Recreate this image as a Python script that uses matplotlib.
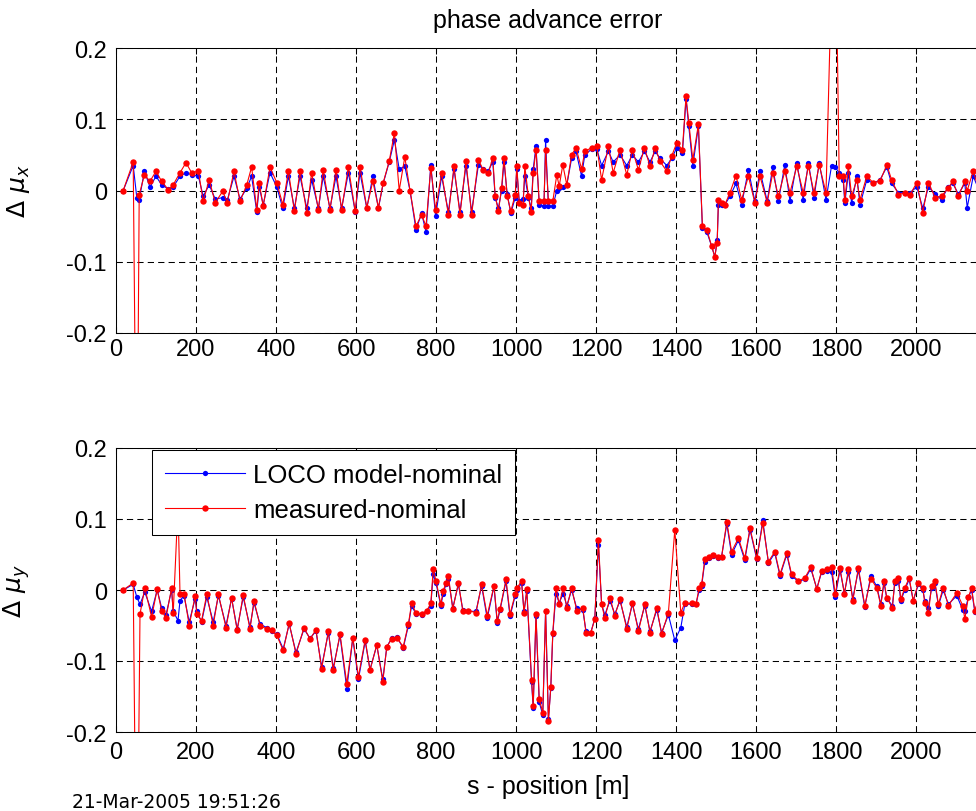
import matplotlib
matplotlib.use('Agg')
import matplotlib.pyplot as plt

# horizontal plane: BPM position [m], measured and LOCO-model phase advance errors
s_x = [18, 43, 52, 58, 71, 85, 100, 114, 131, 143, 160, 175, 189, 206, 218, 233, 248, 267, 278, 295,
       310, 327, 339, 352, 358, 368, 385, 402, 417, 431, 446, 460, 477, 489, 506, 518, 535, 550, 564, 581,
       598, 610, 627, 642, 656, 668, 683, 696, 708, 722, 735, 750, 764, 775, 787, 799, 814, 831, 845, 860,
       875, 889, 906, 918, 931, 942, 948, 956, 964, 970, 978, 987, 998, 1002, 1008, 1018, 1022, 1031, 1038, 1043,
       1050, 1058, 1070, 1074, 1081, 1092, 1102, 1108, 1117, 1127, 1139, 1150, 1164, 1172, 1189, 1202, 1214, 1231, 1243, 1260,
       1277, 1291, 1306, 1321, 1335, 1348, 1360, 1377, 1389, 1402, 1416, 1425, 1432, 1442, 1456, 1466, 1477, 1489, 1497, 1503,
       1506, 1514, 1522, 1535, 1550, 1564, 1581, 1597, 1610, 1628, 1642, 1656, 1672, 1685, 1702, 1718, 1731, 1745, 1758, 1775,
       1789, 1797, 1808, 1818, 1822, 1831, 1839, 1852, 1860, 1877, 1893, 1910, 1927, 1939, 1956, 1973, 1985, 2002, 2017, 2031,
       2048, 2064, 2080, 2092, 2106, 2122, 2128, 2143, 2158]
dmux_meas = [0.0, 0.040, -0.50, -0.006, 0.022, 0.013, 0.027, 0.013, 0.001, 0.008, 0.025, 0.039, 0.025, 0.027, -0.015, 0.015, -0.017, -0.001, -0.017, 0.027,
             -0.015, 0.008, 0.033, -0.027, 0.011, -0.022, 0.033, 0.011, -0.020, 0.027, -0.029, 0.027, -0.031, 0.025, -0.027, 0.029, -0.027, 0.029, -0.027, 0.033,
             -0.029, 0.033, -0.024, 0.013, -0.024, 0.011, 0.041, 0.081, 0.000, 0.047, 0.000, -0.050, -0.034, -0.050, 0.032, -0.027, 0.025, -0.034, 0.034, -0.034,
             0.041, -0.034, 0.043, 0.029, 0.025, 0.046, -0.008, -0.029, 0.004, 0.046, -0.008, -0.029, -0.006, 0.034, -0.017, -0.020, 0.034, -0.008, -0.030, 0.025,
             0.057, -0.015, -0.015, 0.057, -0.015, -0.015, 0.022, 0.006, 0.036, 0.008, 0.050, 0.060, 0.030, 0.055, 0.060, 0.062, 0.015, 0.062, 0.025, 0.057,
             0.022, 0.057, 0.029, 0.060, 0.034, 0.060, 0.041, 0.027, 0.048, 0.067, 0.057, 0.132, 0.095, 0.043, 0.093, -0.050, -0.055, -0.078, -0.093, -0.073,
             -0.013, -0.017, -0.020, -0.003, 0.021, -0.013, 0.020, -0.017, 0.020, -0.017, 0.025, -0.008, 0.027, -0.003, 0.034, -0.003, 0.034, -0.003, 0.036, -0.003,
             0.30, 0.45, 0.020, 0.020, -0.013, 0.034, -0.008, 0.015, -0.013, 0.020, 0.011, 0.013, 0.036, 0.015, -0.006, -0.003, -0.006, 0.011, -0.031, 0.011,
             -0.010, -0.008, 0.003, 0.013, -0.008, 0.013, 0.000, 0.027, 0.000]
dmux_model = [0.0, 0.035, -0.010, -0.013, 0.027, 0.005, 0.020, 0.008, 0.002, 0.005, 0.020, 0.025, 0.022, 0.020, -0.008, 0.008, -0.012, -0.010, -0.014, 0.020,
              -0.012, 0.003, 0.020, -0.030, 0.005, -0.020, 0.025, 0.005, -0.025, 0.020, -0.025, 0.020, -0.025, 0.015, -0.025, 0.020, -0.025, 0.020, -0.025, 0.025,
              -0.030, 0.025, -0.025, 0.020, -0.025, 0.010, 0.040, 0.071, 0.030, 0.034, 0.000, -0.055, -0.032, -0.058, 0.036, -0.036, 0.020, -0.030, 0.030, -0.030,
              0.035, -0.030, 0.036, 0.030, 0.028, 0.040, -0.010, -0.025, 0.000, 0.040, -0.005, -0.032, -0.010, 0.030, -0.015, -0.012, 0.020, -0.010, -0.025, 0.030,
              0.062, -0.020, -0.022, 0.071, -0.022, -0.022, 0.000, 0.003, 0.005, 0.008, 0.045, 0.055, 0.020, 0.050, 0.058, 0.058, 0.035, 0.055, 0.040, 0.050,
              0.035, 0.050, 0.040, 0.055, 0.040, 0.055, 0.045, 0.035, 0.045, 0.060, 0.052, 0.128, 0.090, 0.035, 0.090, -0.052, -0.058, -0.078, -0.093, -0.070,
              -0.020, -0.020, -0.020, -0.008, 0.010, -0.020, 0.029, -0.015, 0.027, -0.015, 0.033, -0.015, 0.036, -0.015, 0.039, -0.013, 0.039, -0.010, 0.039, -0.013,
              0.035, 0.033, 0.025, 0.015, -0.018, 0.025, -0.018, 0.020, -0.020, 0.015, 0.010, 0.015, 0.033, 0.010, -0.003, -0.003, -0.003, 0.005, -0.025, 0.005,
              -0.005, -0.013, 0.005, 0.010, -0.005, 0.010, -0.024, 0.020, 0.000]

# vertical plane
s_y = [18, 43, 52, 60, 72, 89, 103, 114, 125, 139, 143, 155, 160, 170, 183, 198, 202, 214, 227, 243,
       256, 275, 289, 303, 318, 335, 345, 360, 377, 389, 402, 418, 433, 450, 470, 485, 500, 514, 531, 543,
       560, 577, 592, 606, 623, 635, 652, 667, 677, 689, 702, 718, 731, 739, 750, 764, 777, 787, 793, 800,
       812, 818, 825, 831, 842, 856, 867, 881, 900, 914, 928, 945, 953, 960, 975, 985, 998, 1003, 1014, 1020,
       1027, 1039, 1043, 1050, 1058, 1067, 1074, 1081, 1087, 1092, 1100, 1108, 1118, 1127, 1139, 1152, 1167, 1175, 1187, 1197,
       1206, 1214, 1222, 1235, 1247, 1260, 1277, 1291, 1306, 1322, 1335, 1352, 1364, 1381, 1397, 1412, 1422, 1439, 1450, 1458,
       1464, 1472, 1483, 1493, 1506, 1514, 1527, 1539, 1556, 1572, 1585, 1602, 1617, 1631, 1647, 1660, 1677, 1689, 1706, 1722,
       1737, 1752, 1764, 1777, 1789, 1798, 1810, 1821, 1831, 1842, 1856, 1872, 1887, 1902, 1912, 1920, 1927, 1941, 1947, 1956,
       1962, 1972, 1983, 1993, 2006, 2017, 2022, 2031, 2039, 2047, 2056, 2068, 2081, 2102, 2117, 2122, 2131, 2139, 2147, 2158]
dmuy_meas = [0.0, 0.010, -0.50, -0.034, 0.003, -0.038, 0.001, -0.029, -0.039, 0.003, -0.033, 0.12, -0.006, -0.005, -0.050, -0.008, -0.034, -0.043, -0.006, -0.050,
             -0.006, -0.053, -0.011, -0.057, -0.007, -0.055, -0.015, -0.050, -0.055, -0.057, -0.064, -0.085, -0.047, -0.090, -0.053, -0.069, -0.056, -0.111, -0.058, -0.113,
             -0.062, -0.132, -0.067, -0.122, -0.070, -0.113, -0.077, -0.129, -0.080, -0.069, -0.067, -0.080, -0.048, -0.019, -0.032, -0.034, -0.029, -0.019, 0.029, 0.013,
             -0.020, -0.001, 0.010, 0.020, -0.027, 0.010, -0.029, -0.029, -0.032, 0.008, -0.036, 0.006, -0.043, -0.027, 0.015, -0.034, -0.006, 0.003, 0.013, -0.032,
             0.001, -0.127, -0.164, -0.034, -0.153, -0.173, -0.029, -0.185, -0.136, -0.060, 0.003, -0.020, 0.003, -0.025, 0.003, -0.029, -0.025, -0.060, -0.060, -0.041,
             0.071, -0.020, -0.039, -0.011, -0.036, -0.013, -0.055, -0.018, -0.058, -0.020, -0.060, -0.025, -0.062, -0.032, 0.085, -0.032, -0.018, -0.019, -0.020, 0.003,
             0.008, 0.043, 0.047, 0.050, 0.047, 0.047, 0.096, 0.054, 0.073, 0.045, 0.087, 0.045, 0.094, 0.040, 0.054, 0.022, 0.052, 0.022, 0.013, 0.017,
             0.032, 0.001, 0.027, 0.029, 0.033, -0.006, 0.031, -0.006, 0.029, -0.015, 0.031, -0.022, 0.016, 0.003, -0.022, 0.013, -0.011, -0.025, 0.013, 0.017,
             -0.013, 0.003, 0.017, -0.015, 0.010, 0.003, -0.018, -0.033, 0.006, 0.013, -0.020, 0.003, -0.022, -0.004, -0.022, -0.041, -0.010, 0.003, -0.029, -0.010]
dmuy_model = [0.0, 0.008, -0.010, -0.020, -0.003, -0.030, 0.000, -0.025, -0.035, 0.000, -0.030, -0.043, -0.015, -0.008, -0.045, -0.012, -0.030, -0.045, -0.010, -0.045,
              -0.008, -0.050, -0.012, -0.055, -0.010, -0.052, -0.018, -0.048, -0.053, -0.058, -0.062, -0.083, -0.048, -0.088, -0.055, -0.068, -0.058, -0.108, -0.060, -0.110,
              -0.064, -0.139, -0.068, -0.126, -0.072, -0.112, -0.078, -0.126, -0.080, -0.068, -0.066, -0.082, -0.050, -0.022, -0.034, -0.035, -0.030, -0.022, 0.022, 0.010,
              -0.022, -0.005, 0.008, 0.015, -0.025, 0.008, -0.028, -0.030, -0.030, 0.006, -0.040, 0.005, -0.046, -0.028, 0.012, -0.037, -0.008, 0.000, 0.010, -0.030,
              -0.002, -0.130, -0.166, -0.036, -0.158, -0.176, -0.030, -0.182, -0.138, -0.062, -0.005, -0.018, -0.005, -0.022, 0.000, -0.026, -0.028, -0.058, -0.060, -0.040,
              0.064, -0.020, -0.035, -0.015, -0.034, -0.015, -0.052, -0.020, -0.055, -0.022, -0.058, -0.028, -0.060, -0.035, -0.071, -0.053, -0.020, -0.020, -0.020, 0.000,
              0.005, 0.040, 0.045, 0.048, 0.045, 0.047, 0.093, 0.050, 0.070, 0.042, 0.085, 0.043, 0.098, 0.038, 0.052, 0.020, 0.050, 0.020, 0.012, 0.015,
              0.030, 0.002, 0.025, 0.027, 0.025, -0.010, 0.028, -0.004, 0.025, -0.012, 0.028, -0.024, 0.020, 0.005, -0.020, 0.010, -0.012, -0.022, 0.010, 0.013,
              -0.015, 0.000, 0.015, -0.015, 0.008, 0.000, -0.015, -0.025, 0.003, 0.010, -0.022, 0.000, -0.020, -0.008, -0.028, -0.030, -0.010, 0.000, -0.031, -0.010]

xticks = [0, 200, 400, 600, 800, 1000, 1200, 1400, 1600, 1800, 2000]
yticks = [-0.2, -0.1, 0, 0.1, 0.2]
ytick_labels = ['-0.2', '-0.1', '0', '0.1', '0.2']

plt.rcParams['font.family'] = ['Liberation Sans', 'DejaVu Sans']
plt.rcParams['axes.unicode_minus'] = False

W, H = 976, 812
fig = plt.figure(figsize=(W / 100, H / 100), dpi=100)


def axes_px(left, top, right, bottom):
    return fig.add_axes([left / W, 1 - bottom / H, (right - left) / W, (bottom - top) / H])


ax1 = axes_px(116, 49, 980, 334)
ax2 = axes_px(116, 449, 980, 733)

planes = [(ax1, s_x, dmux_model, dmux_meas, r'$\Delta\ \mu_x$', 3.3),
          (ax2, s_y, dmuy_model, dmuy_meas, r'$\Delta\ \mu_y$', 6.8)]

for ax, s, model, meas, lab, xpad in planes:
    ax.plot(s, model, '-', color='b', marker='o', ms=3.8, mew=0, lw=0.8,
            label='LOCO model-nominal')
    ax.plot(s, meas, '-', color='r', marker='o', ms=4.6, mew=0, lw=0.8,
            label='measured-nominal')
    ax.set_xlim(0, 2160)
    ax.set_ylim(-0.2, 0.2)
    ax.set_xticks(xticks)
    ax.set_yticks(yticks)
    ax.set_yticklabels(ytick_labels)
    ax.grid(True, color='k', linestyle=(0, (6, 4)), linewidth=0.75)
    ax.tick_params(direction='in', length=4.5, width=0.75, top=True, right=True,
                   labelsize=17)
    ax.tick_params(axis='x', pad=xpad)
    ax.tick_params(axis='y', pad=6.5)
    for sp in ax.spines.values():
        sp.set_linewidth(0.75)
    ax.set_ylabel(lab, fontsize=18)
    ax.yaxis.set_label_coords(-(116 - 32) / 864, 0.5)

ax1.text(0.5, 1 + (49 - 28) / 285, 'phase advance error', transform=ax1.transAxes,
         ha='center', va='baseline', fontsize=18)
ax2.text(0.5, -(787 - 733) / 284, 's - position [m]', transform=ax2.transAxes,
         ha='center', va='center', fontsize=18)

leg = ax2.legend(loc='upper left', bbox_to_anchor=(36 / 864, 1 - 2 / 284),
                 borderaxespad=0, fancybox=False, framealpha=1, edgecolor='k',
                 fontsize=18.5, handlelength=3.1, handletextpad=0.35,
                 numpoints=1, borderpad=0.5, labelspacing=0.45)
leg.get_frame().set_linewidth(0.75)

fig.text(72 / W, 1 - 803 / H, '21-Mar-2005 19:51:26', fontsize=13.5,
         family='DejaVu Sans', va='center')

fig.savefig('out.png', dpi=100)
